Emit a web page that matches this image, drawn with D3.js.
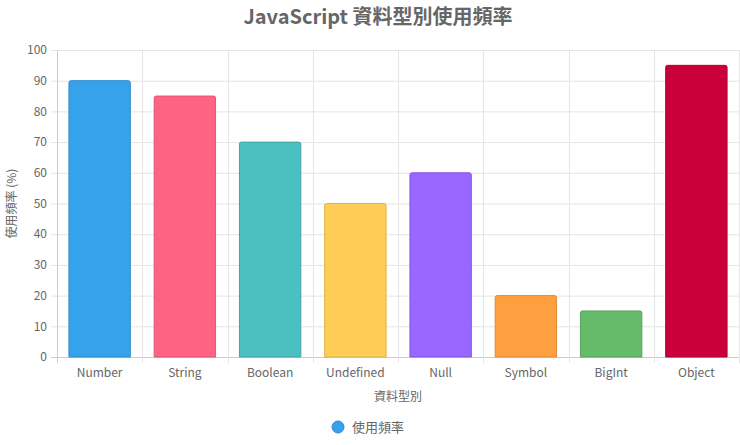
<!DOCTYPE html>
<html><head><meta charset="utf-8">
<script src="https://cdn.jsdelivr.net/npm/d3@7"></script>
<style>body{margin:0;background:#fff}svg{font-family:"Noto Sans CJK TC","Open Sans",sans-serif}</style>
</head><body><div id="chart"></div>
<script>
var categories = ["Number","String","Boolean","Undefined","Null","Symbol","BigInt","Object"];
var values = [90,85,70,50,60,20,15,95];
var colors = ["#36A2EB","#FF6384","#4BC0C0","#FFCD56","#9966FF","#FF9F40","#66BB6A","#C9003A"];
var yTicks = d3.range(0,101,10);

var width = 740, height = 445;
var m = {left: 57, right: 739, top: 50, bottom: 357};

var svg = d3.select("#chart").append("svg").attr("width", width).attr("height", height);

var x = d3.scaleBand().domain(categories).range([m.left, m.right]);
var y = d3.scaleLinear().domain([0,100]).range([m.bottom, m.top]);

// grid
svg.append("g").selectAll("line").data(yTicks).enter().append("line")
  .attr("x1", m.left - 6).attr("x2", m.right)
  .attr("y1", d => y(d) + .5).attr("y2", d => y(d) + .5)
  .attr("stroke", d => d === 0 ? "#ccc" : "#e5e5e5");
svg.append("g").selectAll("line").data(d3.range(categories.length + 1)).enter().append("line")
  .attr("x1", i => Math.round(m.left + i * x.step()) + .5).attr("x2", i => Math.round(m.left + i * x.step()) + .5)
  .attr("y1", m.top).attr("y2", m.bottom + 6)
  .attr("stroke", i => i === 0 ? "#ccc" : "#e5e5e5");

// y labels
svg.append("g").selectAll("text").data(yTicks).enter().append("text")
  .attr("x", m.left - 10).attr("y", d => y(d)).attr("dy", "0.35em")
  .attr("text-anchor", "end").attr("font-size", 12).attr("fill", "#666").text(d => d);
// x labels
svg.append("g").selectAll("text").data(categories).enter().append("text")
  .attr("x", d => x(d) + x.bandwidth() / 2).attr("y", m.bottom + 20)
  .attr("text-anchor", "middle").attr("font-size", 12).attr("fill", "#666").text(d => d);

// bars
var bw = x.bandwidth() * 0.72;
svg.append("g").selectAll("path").data(categories).enter().append("path")
  .attr("d", function (d, i) {
    var x0 = x(d) + (x.bandwidth() - bw) / 2, x1 = x0 + bw, y0 = y(values[i]), y1 = y(0), r = 2;
    return `M${x0},${y1}V${y0 + r}Q${x0},${y0} ${x0 + r},${y0}H${x1 - r}Q${x1},${y0} ${x1},${y0 + r}V${y1}Z`;
  })
  .attr("fill", (d, i) => colors[i])
  .attr("stroke", (d, i) => d3.color(colors[i]).darker(0.4))
  .attr("stroke-width", 1);

// titles
svg.append("text").attr("x", width / 2 + 8).attr("y", 24).attr("text-anchor", "middle")
  .attr("font-size", 20).attr("font-weight", "bold").attr("fill", "#666").text("JavaScript 資料型別使用頻率");
svg.append("text").attr("x", (m.left + m.right) / 2).attr("y", 401).attr("text-anchor", "middle")
  .attr("font-size", 12).attr("fill", "#666").text("資料型別");
svg.append("text").attr("transform", `translate(16,${(m.top + m.bottom) / 2}) rotate(-90)`)
  .attr("text-anchor", "middle").attr("font-size", 12).attr("fill", "#666").text("使用頻率 (%)");

// legend
svg.append("circle").attr("cx", 338).attr("cy", 427).attr("r", 6)
  .attr("fill", colors[0]).attr("stroke", d3.color(colors[0]).darker(0.4));
svg.append("text").attr("x", 352).attr("y", 427).attr("dy", "0.35em")
  .attr("font-size", 13).attr("fill", "#666").text("使用頻率");
</script></body></html>
